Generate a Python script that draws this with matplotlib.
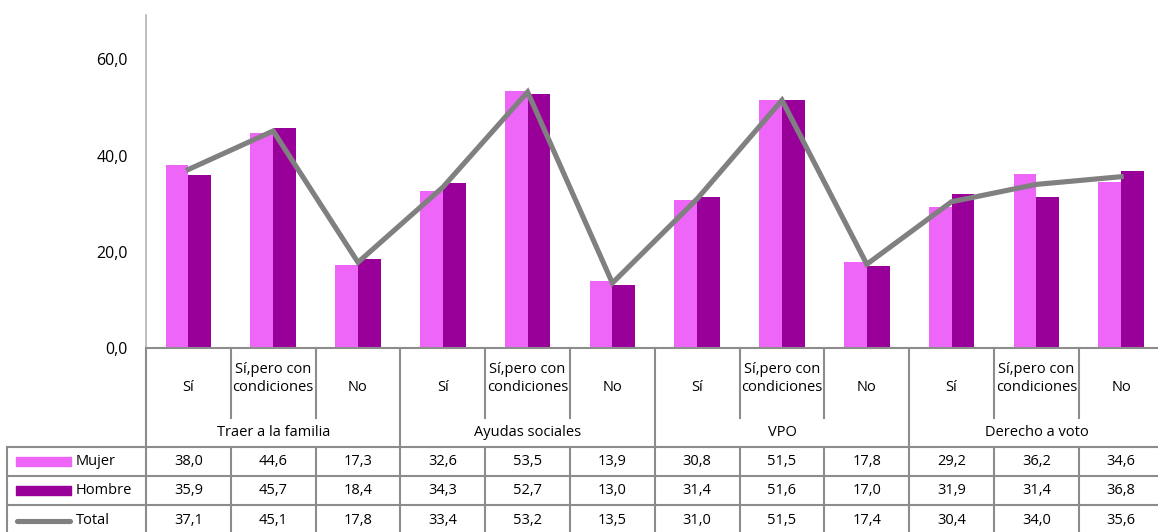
import matplotlib
matplotlib.use("Agg")
import matplotlib.pyplot as plt
from matplotlib.transforms import blended_transform_factory
from matplotlib.lines import Line2D
from matplotlib.patches import Rectangle
import numpy as np

plt.rcParams['font.family'] = ['Open Sans', 'DejaVu Sans']

groups = ["Traer a la familia", "Ayudas sociales", "VPO", "Derecho a voto"]
answers = ["Sí", "Sí,pero con\ncondiciones", "No"]
mujer = [38.0, 44.6, 17.3, 32.6, 53.5, 13.9, 30.8, 51.5, 17.8, 29.2, 36.2, 34.6]
hombre = [35.9, 45.7, 18.4, 34.3, 52.7, 13.0, 31.4, 51.6, 17.0, 31.9, 31.4, 36.8]
total = [37.1, 45.1, 17.8, 33.4, 53.2, 13.5, 31.0, 51.5, 17.4, 30.4, 34.0, 35.6]
yticks = [0, 20, 40, 60]

c_mujer = "#EE66F7"
c_hombre = "#990099"
c_total = "#808080"
c_grid = "#8C8C8C"

W, H = 1158, 532
fig = plt.figure(figsize=(W / 100, H / 100), dpi=100)

def fy(py):
    return 1 - py / H

ax_left, ax_right, ax_top, ax_bottom = 146, 1163.6, 15, 348
ax = fig.add_axes([ax_left / W, fy(ax_bottom), (ax_right - ax_left) / W,
                   (ax_bottom - ax_top) / H])

n = len(mujer)
x = np.arange(n)
bw = 0.27
ax.bar(x - bw / 2, mujer, bw, color=c_mujer, zorder=2)
ax.bar(x + bw / 2, hombre, bw, color=c_hombre, zorder=2)
ax.plot(x, total, color=c_total, lw=3.7, zorder=3, solid_joinstyle='miter')

ax.set_xlim(-0.5, n - 0.5)
ax.set_ylim(0, 69.2)
ax.set_yticks(yticks)
ax.set_yticklabels([f"{v:.1f}".replace(".", ",") for v in yticks], fontsize=11.5)
ax.tick_params(axis='y', length=0, pad=13)
ax.set_xticks([])
for s in ["top", "right", "bottom"]:
    ax.spines[s].set_visible(False)
ax.spines["left"].set_color("#B4B4B4")
ax.spines["left"].set_linewidth(1.2)

# data table below the plot: x in data units, y in figure fraction
tr = blended_transform_factory(ax.transData, fig.transFigure)
trf = fig.transFigure

def hline(x0, x1, py, transform=tr):
    fig.add_artist(Line2D([x0, x1], [fy(py), fy(py)], color=c_grid, lw=1.5,
                          transform=transform, clip_on=False))

def vline(xv, py0, py1, transform=tr):
    fig.add_artist(Line2D([xv, xv], [fy(py0), fy(py1)], color=c_grid, lw=1.5,
                          transform=transform, clip_on=False))

row_cat_top, row_cat_sep, row_grp_bot = 348, 418, 447
row_bounds = [447, 476, 505, 540]

# horizontal rules
hline(-0.5, n - 0.5, row_cat_top)
for py in row_bounds[:3]:
    fig.add_artist(Line2D([7 / W, 1], [fy(py), fy(py)], color=c_grid, lw=1.5,
                          transform=trf, clip_on=False))
# left border of legend column
vline(7 / W, row_bounds[0], H + 5, transform=trf)

# vertical rules
for i in range(n + 1):
    xv = i - 0.5
    if i % 3 == 0:
        vline(xv, row_cat_top, H + 5)
    else:
        vline(xv, row_cat_top, row_cat_sep)
        vline(xv, row_grp_bot, H + 5)

# category labels: last line of each label sits on the same baseline
for i in range(n):
    lab = answers[i % 3]
    fig.text(i, fy(391), lab, transform=tr, ha="center", va="baseline",
             fontsize=10.5, linespacing=1.3)
for g, name in enumerate(groups):
    fig.text(3 * g + 1, fy(433), name, transform=tr, ha="center", va="center",
             fontsize=10.5)

# value rows with legend keys
series = [("Mujer", mujer, c_mujer, "bar"),
          ("Hombre", hombre, c_hombre, "bar"),
          ("Total", total, c_total, "line")]
for r, (name, vals, col, kind) in enumerate(series):
    yc = (row_bounds[r] + row_bounds[r + 1]) / 2 if r < 2 else 520
    for i, v in enumerate(vals):
        fig.text(i, fy(yc), f"{v:.1f}".replace(".", ","), transform=tr,
                 ha="center", va="center", fontsize=10.5)
    if kind == "bar":
        fig.add_artist(Rectangle((16 / W, fy(yc + 4.5)), 55 / W, 9 / H,
                                 color=col, transform=trf, clip_on=False))
    else:
        fig.add_artist(Line2D([17 / W, 70 / W], [fy(yc + 1), fy(yc + 1)],
                              color=col, lw=3.7, solid_capstyle="round",
                              transform=trf, clip_on=False))
    fig.text(76 / W, fy(yc), name, transform=trf, ha="left", va="center",
             fontsize=10.5)

fig.savefig("out.png", dpi=100)
